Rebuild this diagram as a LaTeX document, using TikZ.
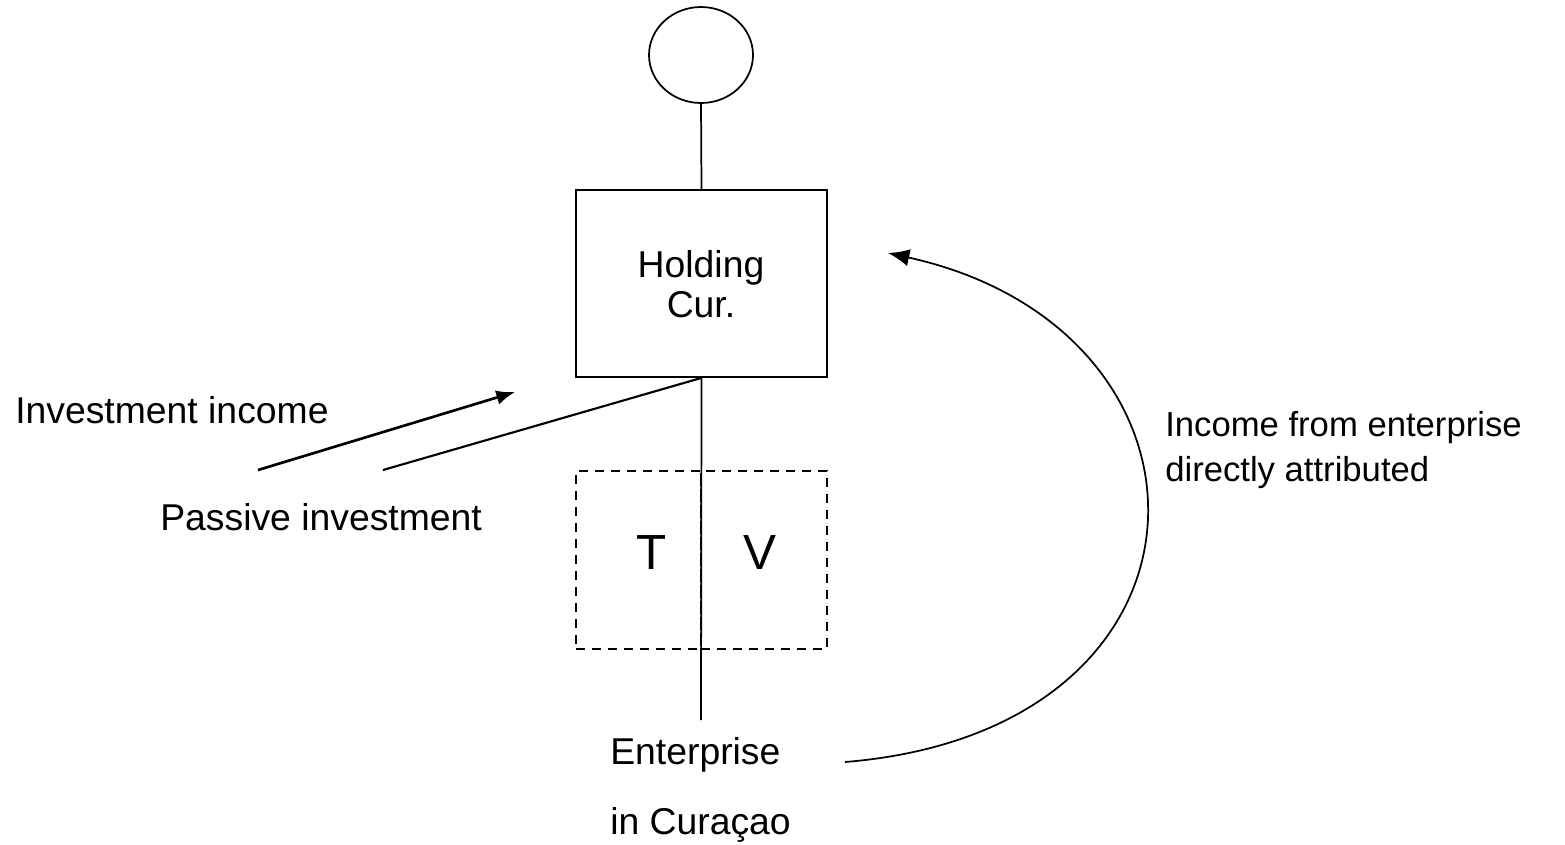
\documentclass[tikz,border=0pt]{standalone}
\usepackage{fontspec}
\setmainfont{Liberation Sans}
\usetikzlibrary{arrows.meta,shapes.geometric}
\begin{document}
\begin{tikzpicture}[x=0.75pt,y=-0.75pt,
  thinline/.style={line width=1.3pt},
  label/.style={inner sep=0pt,font=\fontsize{28pt}{33pt}\selectfont},
  smalllabel/.style={inner sep=0pt,font=\fontsize{26pt}{31pt}\selectfont},
  bigletter/.style={inner sep=0pt,font=\fontsize{37pt}{40pt}\selectfont},
  flow/.style={line width=2pt,-{Latex[length=14pt,width=11pt]}}]
\useasboundingbox (0,0) rectangle (1565,844);

% owner and holding company
\node[draw,thinline,ellipse,minimum width=104*0.75pt,minimum height=96*0.75pt,inner sep=0pt] (owner) at (701,55) {};
\node[draw,thinline,minimum width=251*0.75pt,minimum height=187*0.75pt,inner sep=0pt] (holding) at (701.5,283.5) {};
\node[label,align=center] (holdtxt) at (701,284) {Holding\\[-3pt]Cur.};
\draw[thinline] (owner.south) -- (holding.north);

% dashed T / V split
\node[draw,thinline,dashed,dash pattern=on 7pt off 5pt,minimum width=125*0.75pt,minimum height=178*0.75pt,inner sep=0pt] (tbox) at (638.5,560) {};
\node[draw,thinline,dashed,dash pattern=on 7pt off 5pt,minimum width=126*0.75pt,minimum height=178*0.75pt,inner sep=0pt] (vbox) at (764,560) {};
\node[bigletter] (T) at (652,553) {T};
\node[bigletter] (V) at (760,553) {V};

% enterprise
\coordinate (entop) at (701,720);
\draw[thinline] (holding.south) -- (entop);
\node[label,anchor=west] (ent1) at (610,755) {Enterprise};
\node[label,anchor=west] (ent2) at (610,825) {in Curaçao};

% passive investment and income
\coordinate (pstart) at (383,470);
\draw[line width=1.6pt] (pstart) -- (holding.south);
\coordinate (istart) at (258,470);
\coordinate (iend) at (515,392);
\draw[flow] (istart) -- (iend);
\node[label,anchor=west] (invinc) at (15,410) {Investment income};
\node[label,anchor=west] (passinv) at (160,517) {Passive investment};

% income attributed directly
\coordinate (cstart) at (845,762);
\coordinate (cend) at (888,253);
\draw[line width=1.3pt,-{Latex[length=16pt,width=13pt]}] (cstart) .. controls (1238,730) and (1238,330) .. (cend);
\node[smalllabel,anchor=west,align=left] (direct) at (1165,450) {Income from enterprise\\[3pt]directly attributed};
\end{tikzpicture}
\end{document}
